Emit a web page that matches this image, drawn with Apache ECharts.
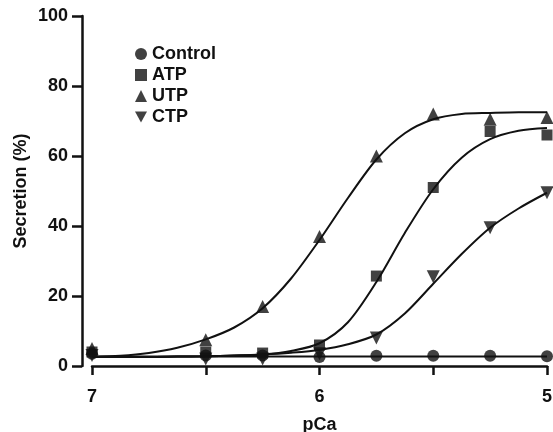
<!DOCTYPE html>
<html>
<head>
<meta charset="utf-8">
<script src="https://cdn.jsdelivr.net/npm/echarts@6/dist/echarts.min.js"></script>
<style>
  html, body { margin: 0; padding: 0; background: #fff; }
  #chart { width: 553px; height: 432px; }
</style>
</head>
<body>
<div id="chart"></div>
<script>
// measured points (pCa, secretion %)
var pCa = [7, 6.5, 6.25, 6, 5.75, 5.5, 5.25, 5];
var control = [3.5, 3, 3, 2.6, 2.9, 2.9, 2.9, 2.8];
var atp = [4, 4, 3.7, 6, 25.7, 51, 67, 66];
var utp = [5, 7.5, 17, 37, 60, 72, 70.5, 71];
var ctp = [3, 2, 2, 3.5, 8, 25.5, 39.5, 49.5];

// fitted curves
var pCaFit = [7, 6.875, 6.75, 6.625, 6.5, 6.375, 6.25, 6.125, 6, 5.875, 5.75, 5.625, 5.5, 5.375, 5.25, 5.125, 5];
var controlFit = [2.7, 2.7, 2.7, 2.7, 2.7, 2.7, 2.7, 2.7, 2.7, 2.7, 2.7, 2.7, 2.7, 2.7, 2.7, 2.7, 2.7];
var atpFit = [2.6, 2.6, 2.6, 2.7, 2.8, 3.0, 3.3, 4.3, 6.5, 12.5, 24, 38, 50.5, 59.5, 64.8, 67.2, 68];
var utpFit = [2.6, 2.9, 3.7, 5.2, 7.6, 11, 16.5, 25, 36, 48, 59, 66.5, 70.5, 72, 72.3, 72.5, 72.5];
var ctpFit = [2.6, 2.6, 2.6, 2.7, 2.8, 3.0, 3.3, 3.8, 4.6, 6.2, 9, 15, 23.5, 32, 39.5, 45, 49.5];

var yTicks = [0, 20, 40, 60, 80, 100];
var xLabels = [7, 6, 5];

function pairs(xs, ys) {
    return xs.map(function (x, i) { return [x, ys[i]]; });
}

var font = "'Liberation Sans', Arial, sans-serif";
var ink = '#111';

var pointSets = [
    { name: 'Control', data: control, symbol: 'circle', size: 12 },
    { name: 'ATP', data: atp, symbol: 'rect', size: 11 },
    { name: 'UTP', data: utp, symbol: 'triangle', size: 13 },
    { name: 'CTP', data: ctp, symbol: 'path://M0,0L10,0L5,9Z', size: 13 }
];
var fitSets = [controlFit, atpFit, utpFit, ctpFit];

var series = [];
fitSets.forEach(function (f, i) {
    series.push({
        name: 'fit' + i,
        type: 'line',
        data: pairs(pCaFit, f),
        smooth: 0.3,
        showSymbol: false,
        silent: true,
        lineStyle: { color: ink, width: 2 },
        z: 2
    });
});
pointSets.forEach(function (p) {
    series.push({
        name: p.name,
        type: 'scatter',
        data: pairs(pCa, p.data),
        symbol: p.symbol,
        symbolSize: p.size,
        itemStyle: { color: ink },
        z: 3
    });
});

var myChart = echarts.init(document.getElementById('chart'));
myChart.setOption({
    animation: false,
    backgroundColor: '#fff',
    legend: {
        data: pointSets.map(function (p) { return p.name; }),
        orient: 'vertical',
        left: 130,
        top: 40,
        itemGap: 3,
        itemWidth: 12,
        itemHeight: 12,
        textStyle: { fontFamily: font, fontSize: 18, fontWeight: 'bold', color: ink }
    },
    grid: { left: 92, right: 6, top: 16, bottom: 66, containLabel: false, outerBoundsMode: 'none' },
    xAxis: {
        type: 'value',
        min: 5,
        max: 7,
        interval: 0.5,
        inverse: true,
        offset: 8,
        name: 'pCa',
        nameLocation: 'middle',
        nameGap: 42,
        nameMoveOverlap: false,
        nameTextStyle: { fontFamily: font, fontSize: 18, fontWeight: 'bold', color: ink },
        axisLine: { lineStyle: { color: ink, width: 2.5 } },
        axisTick: { length: 9, lineStyle: { color: ink, width: 2.5 } },
        axisLabel: {
            margin: 14,
            fontFamily: font, fontSize: 18, fontWeight: 'bold', color: ink,
            formatter: function (v) { return xLabels.indexOf(v) >= 0 ? String(v) : ''; }
        },
        splitLine: { show: false }
    },
    yAxis: {
        type: 'value',
        min: yTicks[0],
        max: yTicks[yTicks.length - 1],
        interval: 20,
        offset: 10,
        name: 'Secretion (%)',
        nameLocation: 'middle',
        nameGap: 52,
        nameMoveOverlap: false,
        nameTextStyle: { fontFamily: font, fontSize: 18, fontWeight: 'bold', color: ink },
        axisLine: { show: true, lineStyle: { color: ink, width: 2.5 } },
        axisTick: { show: true, length: 10, lineStyle: { color: ink, width: 2.5 } },
        axisLabel: { margin: 14, fontFamily: font, fontSize: 18, fontWeight: 'bold', color: ink },
        splitLine: { show: false }
    },
    series: series
});
</script>
</body>
</html>
